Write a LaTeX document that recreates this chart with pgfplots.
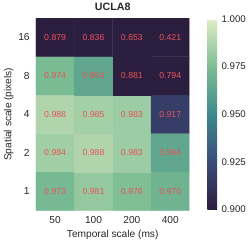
\documentclass[border=0pt]{standalone}
\usepackage{pgfplots}
\pgfplotsset{compat=1.18}
\usepackage{fontspec}
\setmainfont{Liberation Sans}
\definecolor{numred}{RGB}{235,82,92}
\definecolor{txt}{RGB}{38,38,38}
\begin{document}
\begin{tikzpicture}
\path (0,0) rectangle (249bp,248bp);
\begin{axis}[
  at={(37bp,35bp)}, anchor=south west,
  scale only axis, width=158bp, height=198bp,
  xmin=-0.5, xmax=3.5, ymin=-0.5, ymax=4.5,
  axis line style={draw=none},
  major tick length=0pt,
  xtick={0,1,2,3}, xticklabels={50,100,200,400},
  ytick={0,1,2,3,4}, yticklabels={1,2,4,8,16},
  tick label style={font=\fontsize{10.5}{12}\selectfont, text=txt},
  xticklabel style={yshift=-3bp},
  yticklabel style={xshift=-3bp},
  xlabel={Temporal scale (ms)}, ylabel={Spatial scale (pixels)},
  label style={font=\fontsize{10.5}{12}\selectfont, text=txt},
  xlabel style={yshift=0bp},
  ylabel style={yshift=-2bp},
  title={\textbf{UCLA8}}, title style={font=\fontsize{11}{12}\selectfont, text=txt, yshift=-2bp},
  colormap={crestish}{rgb255=(44,30,62) rgb255=(58,76,122) rgb255=(62,137,140) rgb255=(124,189,146) rgb255=(224,236,198)},
  point meta min=0.9, point meta max=1.0,
  colorbar,
  colorbar style={
    at={(parent axis.north east)}, anchor=north west, xshift=10bp, yshift=-1bp,
    scale only axis, width=10bp, height=196bp,
    axis line style={draw=none}, major tick length=0pt,
    ytick={0.9,0.925,0.95,0.975,1.0},
    yticklabel style={font=\fontsize{10}{11}\selectfont, text=txt, xshift=1bp,
      /pgf/number format/.cd, fixed, precision=3, zerofill, assume math mode=true},
  },
]
\addplot[matrix plot*, mesh/cols=4, point meta=explicit] table[meta=v] {
x y v
0 0 0.973
1 0 0.981
2 0 0.976
3 0 0.970
0 1 0.984
1 1 0.988
2 1 0.983
3 1 0.964
0 2 0.988
1 2 0.985
2 2 0.983
3 2 0.917
0 3 0.974
1 3 0.964
2 3 0.881
3 3 0.794
0 4 0.879
1 4 0.836
2 4 0.653
3 4 0.421
};
\addplot[only marks, mark=none, point meta=explicit symbolic,
  nodes near coords, nodes near coords align={center},
  every node near coord/.append style={font=\fontsize{9}{10}\selectfont, text=numred, anchor=center}]
  table[meta=t] {
x y t
0 0 0.973
1 0 0.981
2 0 0.976
3 0 0.970
0 1 0.984
1 1 0.988
2 1 0.983
3 1 0.964
0 2 0.988
1 2 0.985
2 2 0.983
3 2 0.917
0 3 0.974
1 3 0.964
2 3 0.881
3 3 0.794
0 4 0.879
1 4 0.836
2 4 0.653
3 4 0.421
};
\end{axis}
\end{tikzpicture}
\end{document}
